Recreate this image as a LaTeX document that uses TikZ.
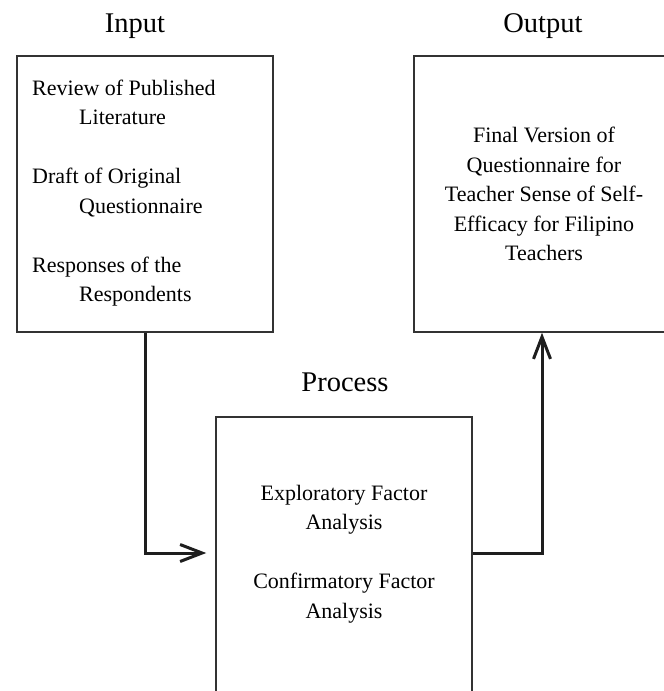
\documentclass[tikz,border=0pt]{standalone}
\usepackage{fontspec}
\setmainfont{Liberation Serif}
\usetikzlibrary{arrows.meta}
\definecolor{boxline}{HTML}{333333}
\definecolor{arrowline}{HTML}{1E1E1E}
\begin{document}
\begin{tikzpicture}[x=1pt,y=-1pt,
  stagebox/.style={draw=boxline, line width=1.5pt, rectangle,
    minimum width=256pt, minimum height=276pt, inner sep=0pt},
  bodytext/.style={font=\fontsize{22}{29.5}\selectfont, inner sep=0pt},
  headtext/.style={font=\fontsize{28.5}{34}\selectfont, anchor=base, inner sep=0pt},
  flow/.style={draw=arrowline, line width=3pt,
    -{Straight Barb[length=22pt,width=17pt,line width=3pt]}}]
\path[use as bounding box, clip] (0,0) rectangle (664,691);
\fill[white] (0,0) rectangle (664,691);
% boxes
\node[stagebox] (inbox) at (145,194) {};
\node[stagebox] (outbox) at (542,194) {};
\node[stagebox] (procbox) at (344,555) {};
% headings
\node[headtext] (inlabel) at (135,32) {Input};
\node[headtext] (outlabel) at (543,32) {Output};
\node[headtext] (proclabel) at (345,391) {Process};
% texts
\node[bodytext, anchor=west, align=left] (intext) at (32,193)
  {Review of Published\\\hspace*{47pt}Literature\\[29.5pt]Draft of Original\\\hspace*{47pt}Questionnaire\\[29.5pt]Responses of the\\\hspace*{47pt}Respondents};
\node[bodytext, align=center] (outtext) at (544,194)
  {Final Version of\\Questionnaire for\\Teacher Sense of Self-\\Efficacy for Filipino\\Teachers};
\node[bodytext, align=center] (proctext) at (344,554)
  {Exploratory Factor\\Analysis\\[29.5pt]Confirmatory Factor\\Analysis};
% connectors
\coordinate (intip) at ([xshift=-9pt,yshift=2pt]procbox.west);
\coordinate (procout) at ([yshift=2pt]procbox.east);
\draw[flow] (inbox.south) |- (intip);
\draw[flow] (procout) -| (outbox.south);
\end{tikzpicture}
\end{document}
